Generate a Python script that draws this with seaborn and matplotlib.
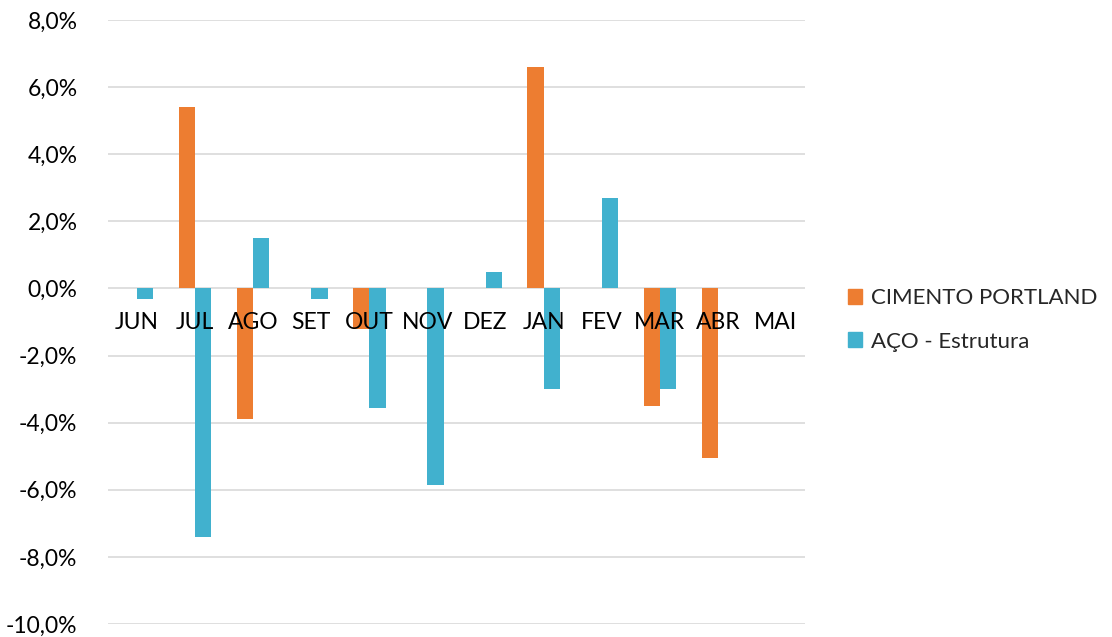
import pandas as pd
import numpy as np
import matplotlib.pyplot as plt
import seaborn as sb
from matplotlib.ticker import FuncFormatter
from matplotlib.patches import Patch

meses = ["JUN", "JUL", "AGO", "SET", "OUT", "NOV", "DEZ", "JAN", "FEV", "MAR", "ABR", "MAI"]
cimento = [0.0, 5.4, -3.9, 0.0, -1.2, 0.0, 0.0, 6.6, 0.0, -3.5, -5.05, 0.0]
aco = [-0.3, -7.4, 1.5, -0.3, -3.55, -5.85, 0.5, -3.0, 2.7, -3.0, 0.0, 0.0]
series = ["CIMENTO PORTLAND", "AÇO - Estrutura"]
cores = ["#ED7D31", "#41B1CE"]

t = pd.DataFrame({"mes": meses * 2,
                  "valor": cimento + aco,
                  "serie": [series[0]] * len(meses) + [series[1]] * len(meses)})

sb.set_style("white")
plt.rcParams["font.family"] = ["Lato", "DejaVu Sans"]

fig = plt.figure(figsize=(11.12, 6.37), dpi=100)
ax = fig.add_axes([108 / 1112, 1 - 624 / 637, 697 / 1112, 604 / 637])

sb.barplot(data=t, x="mes", y="valor", hue="serie", palette=cores,
           width=0.56, ax=ax, legend=False, saturation=1, linewidth=0)

ax.set_ylim(-10, 8)
ax.set_yticks(np.arange(-10, 9, 2))
ax.yaxis.set_major_formatter(FuncFormatter(lambda v, p: f"{v:.1f}%".replace(".", ",")))
# linhas de grade atras das barras, rotulos por cima
for v in np.arange(-10, 9, 2):
    ax.axhline(v, color="#D9D9D9", linewidth=1.2, zorder=0)

for s in ["top", "right", "left", "bottom"]:
    ax.spines[s].set_visible(False)
ax.spines["bottom"].set_position(("data", 0))
ax.xaxis.set_zorder(5)

ax.tick_params(axis="x", length=0, pad=17, labelsize=16.5, colors="#000000")
ax.tick_params(axis="y", length=0, pad=22, labelsize=16.5, colors="#000000")
ax.set_xlabel("")
ax.set_ylabel("")

handles = [Patch(color=c, label=s) for c, s in zip(cores, series)]
fig.legend(handles=handles, loc="center left", bbox_to_anchor=(828 / 1112, 1 - 320 / 637),
           frameon=False, fontsize=16, handlelength=0.65, handleheight=0.65,
           handletextpad=0.4, labelspacing=1.05)

fig.savefig("out.png", dpi=100)
